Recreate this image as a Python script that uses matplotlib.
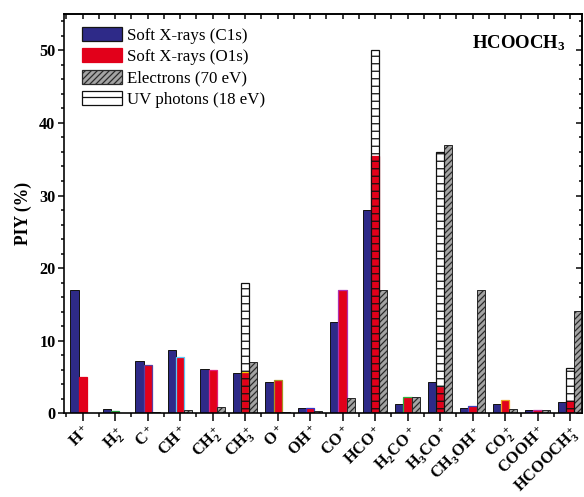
import numpy as np
import matplotlib
matplotlib.use("Agg")
import matplotlib.pyplot as plt
from matplotlib.patches import Patch
from matplotlib.ticker import FixedLocator, MultipleLocator

plt.rcParams["font.family"] = ["Liberation Serif", "DejaVu Serif"]
plt.rcParams["mathtext.fontset"] = "custom"
plt.rcParams["mathtext.rm"] = "Liberation Serif"
plt.rcParams["mathtext.bf"] = "Liberation Serif:bold"
plt.rcParams["mathtext.it"] = "Liberation Serif:italic"
plt.rcParams["mathtext.default"] = "bf"
plt.rcParams["hatch.linewidth"] = 1.0

# Partial ion yields (%) of methyl formate fragments
ions = [r"$H^+$", r"$H_2^+$", r"$C^+$", r"$CH^+$", r"$CH_2^+$", r"$CH_3^+$",
        r"$O^+$", r"$OH^+$", r"$CO^+$", r"$HCO^+$", r"$H_2CO^+$", r"$H_3CO^+$",
        r"$CH_3OH^+$", r"$CO_2^+$", r"$COOH^+$", r"$HCOOCH_3^+$"]
soft_xray_c1s = [17.0, 0.55, 7.2, 8.7, 6.1, 5.6, 4.35, 0.77, 12.6, 28.0,
                 1.28, 4.35, 0.77, 1.28, 0.45, 1.6]
soft_xray_o1s = [5.0, 0.3, 6.7, 7.7, 5.95, 5.7, 4.65, 0.69, 17.0, 35.5,
                 2.3, 3.8, 1.05, 1.83, 0.45, 1.73]
electrons_70ev = [0.0, 0.0, 0.2, 0.5, 0.8, 7.0, 0.2, 0.3, 2.06, 17.0,
                  2.3, 37.0, 17.0, 0.55, 0.45, 14.1]
uv_18ev = [0.0, 0.0, 0.0, 0.0, 0.0, 18.0, 0.0, 0.0, 0.0, 50.0,
           0.0, 36.0, 0.0, 0.0, 0.0, 6.2]
series_names = ["Soft X-rays (C1s)", "Soft X-rays (O1s)",
                "Electrons (70 eV)", "UV photons (18 eV)"]

BLUE = "#2e2a88"
RED = "#e2001a"
GREY = "#a4a4a4"
# outline colours of the O1s bars
o1s_edges = [RED, "#22a040", "#5a3ea0", "#5bc8f5", "#e0207a", "#f0d000",
             "#a89020", "#3434c4", "#b030b0", RED, "#30b040", "#20a0a0",
             "#4040c0", "#f0a020", "#c030a0", RED]

fig = plt.figure(figsize=(584 / 90, 497 / 90), dpi=90)
ax = fig.add_axes([0.110, 0.1684, 0.8866, 0.8034])

x = np.arange(len(ions))
w = 0.25

def visible(vals):
    v = np.asarray(vals, dtype=float)
    m = v > 0
    return m, v

m, v = visible(soft_xray_c1s)
ax.bar(x[m] - w, v[m], width=w, color=BLUE, edgecolor="#151515",
       linewidth=0.8, zorder=2)
m, v = visible(soft_xray_o1s)
ax.bar(x[m], v[m], width=w, color=RED,
       edgecolor=[c for c, k in zip(o1s_edges, m) if k], linewidth=1.0, zorder=2)
m, v = visible(electrons_70ev)
ax.bar(x[m] + w, v[m], width=w, color=GREY, edgecolor="#2a2a2a",
       hatch="/////", linewidth=0.8, zorder=2)
m, v = visible(uv_18ev)
ax.bar(x[m], v[m], width=w, facecolor="none", edgecolor="#101010",
       hatch="--", linewidth=1.0, zorder=3)

ax.set_xlim(-0.566, 15.37)
ax.set_ylim(0, 55)

ax.xaxis.set_major_locator(FixedLocator(x))
ax.xaxis.set_minor_locator(FixedLocator(np.arange(-0.5, 16, 1.0)))
ax.set_xticklabels(ions, rotation=45, ha="right", rotation_mode="anchor",
                   fontsize=13)
ax.yaxis.set_major_locator(MultipleLocator(10))
ax.yaxis.set_minor_locator(MultipleLocator(2))
for lab in ax.get_yticklabels():
    lab.set_fontweight("bold")
ax.tick_params(axis="y", which="major", direction="out", length=5, width=1.2,
               labelsize=13, pad=2)
ax.tick_params(axis="y", which="minor", direction="out", length=2.5, width=1.2)
ax.tick_params(axis="x", which="major", direction="out", length=6, width=1.2,
               pad=2)
ax.tick_params(axis="x", which="minor", direction="out", length=3, width=1.2)
for sp in ax.spines.values():
    sp.set_linewidth(1.3)

top = ax.secondary_xaxis("top")
top.xaxis.set_major_locator(FixedLocator(x))
top.xaxis.set_minor_locator(FixedLocator(np.arange(-0.5, 16, 1.0)))
top.tick_params(which="both", direction="in", length=4, width=1.2,
                labeltop=False)
top.spines["top"].set_linewidth(1.3)
right = ax.secondary_yaxis("right")
right.yaxis.set_major_locator(MultipleLocator(10))
right.yaxis.set_minor_locator(MultipleLocator(2))
right.tick_params(which="major", direction="in", length=5, width=1.2,
                  labelright=False)
right.tick_params(which="minor", direction="in", length=2.5, width=1.2)
right.spines["right"].set_linewidth(1.3)

ax.set_ylabel("PIY (%)", fontsize=14, fontweight="bold", labelpad=6)

ax.text(0.969, 0.928, r"HCOOCH$_3$", transform=ax.transAxes, ha="right",
        va="center", fontsize=15, fontweight="bold")

handles = [
    Patch(facecolor=BLUE, edgecolor="#151515", linewidth=1.0),
    Patch(facecolor=RED, edgecolor=RED, linewidth=1.0),
    Patch(facecolor=GREY, edgecolor="#2a2a2a", hatch="/////", linewidth=1.0),
    Patch(facecolor="white", edgecolor="#101010", hatch="-", linewidth=1.0),
]
ax.legend(handles, series_names, loc="upper left",
          bbox_to_anchor=(0.034, 0.968), frameon=False, fontsize=13.5,
          handlelength=2.4, handleheight=0.9, handletextpad=0.3,
          labelspacing=0.28, borderpad=0, borderaxespad=0)

fig.savefig("out.png", dpi=90)
